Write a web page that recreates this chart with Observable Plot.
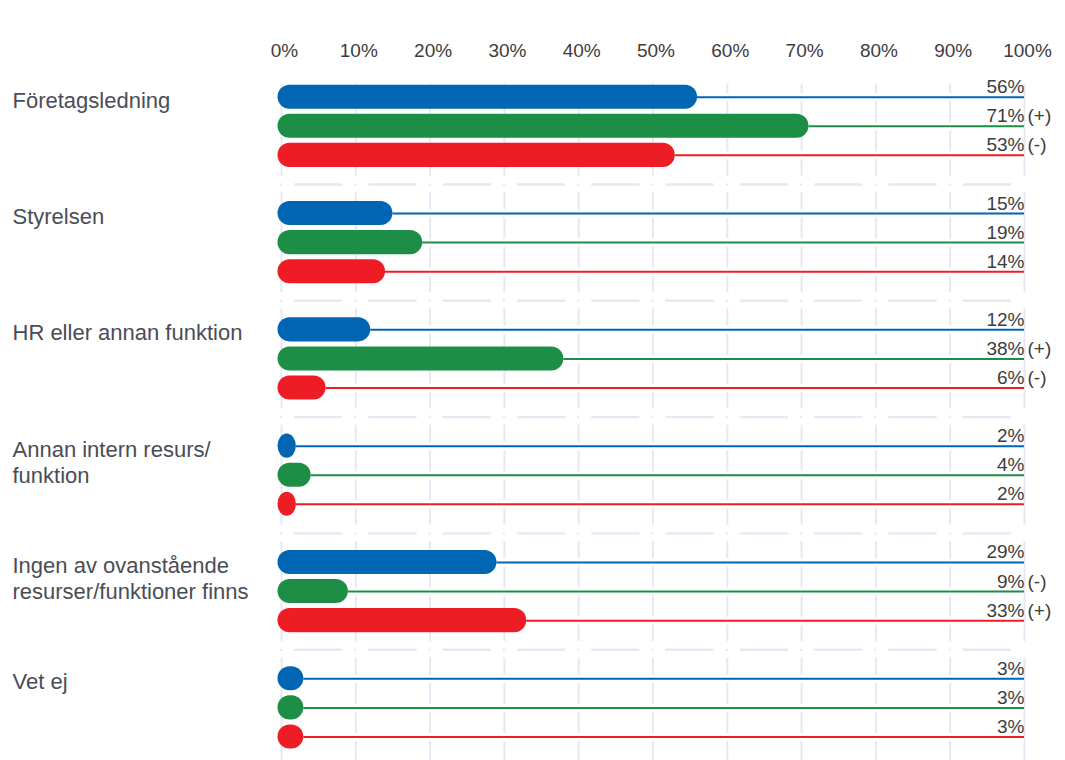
<!DOCTYPE html>
<html>
<head>
<meta charset="utf-8">
<script src="https://cdn.jsdelivr.net/npm/d3@7"></script>
<script src="https://cdn.jsdelivr.net/npm/@observablehq/plot@0.6"></script>
<style>
  html, body { margin: 0; padding: 0; background: #ffffff; }
  #chart { width: 1065px; height: 760px; overflow: hidden; }
</style>
</head>
<body>
<div id="chart"></div>
<script>
// ---- Data ----
const categories = [
  "Företagsledning",
  "Styrelsen",
  "HR eller annan funktion",
  "Annan intern resurs/\nfunktion",
  "Ingen av ovanstående\nresurser/funktioner finns",
  "Vet ej"
];
const seriesNames = ["Serie 1", "Serie 2", "Serie 3"];
const serie1 = [56, 15, 12, 2, 29, 3];
const serie2 = [71, 19, 38, 4, 9, 3];
const serie3 = [53, 14, 6, 2, 33, 3];
const serie1Sig = ["", "", "", "", "", ""];
const serie2Sig = ["(+)", "", "(+)", "", "(-)", ""];
const serie3Sig = ["(-)", "", "(-)", "", "(+)", ""];
const seriesColors = ["#0065b2", "#1c8e46", "#ee1d25"];
const xTicks = [0, 10, 20, 30, 40, 50, 60, 70, 80, 90, 100];

// ---- Table built from arrays ----
const seriesValues = [serie1, serie2, serie3];
const seriesSig = [serie1Sig, serie2Sig, serie3Sig];
const rows = [];
categories.forEach((cat, g) => {
  seriesNames.forEach((s, i) => {
    rows.push({cat, series: s, value: seriesValues[i][g], sig: seriesSig[i][g], row: g * 4 + i});
  });
});
const separators = categories.slice(1).map((_, g) => (g + 1) * 4 - 1);
const gap = 0.28;
const gridSegs = [];
xTicks.forEach(x => {
  categories.forEach((_, g) => {
    gridSegs.push({
      x,
      y1: g === 0 ? -0.45 : g * 4 - 1 + gap,
      y2: g === categories.length - 1 ? g * 4 + 3.6 : g * 4 + 3 - gap
    });
  });
});

const font = "'Liberation Sans', Arial, Helvetica, sans-serif";
const gridColor = "#e6e8f3";

const chart = Plot.plot({
  width: 1065,
  height: 760,
  marginLeft: 281,
  marginRight: 41,
  marginTop: 60,
  marginBottom: 0,
  style: {fontFamily: font, fontSize: "19px", color: "#3d3d3d", background: "#ffffff", overflow: "hidden"},
  x: {domain: [0, 100], axis: null},
  y: {domain: [0, 20], range: [96.7, 678.3], axis: null},
  color: {domain: seriesNames, range: seriesColors},
  marks: [
    Plot.ruleX(gridSegs, {x: "x", y1: "y1", y2: "y2", stroke: gridColor, strokeWidth: 2}),
    Plot.ruleY(separators, {y: d => d, x1: 0, x2: 100, stroke: gridColor, strokeWidth: 2.4,
      strokeDasharray: "0 14 46.3 14", strokeLinecap: "round"}),
    Plot.ruleY(rows, {y: "row", x1: "value", x2: 100, stroke: "#ffffff", strokeWidth: 8}),
    Plot.ruleY(rows, {y: "row", x1: "value", x2: 100, stroke: "series", strokeWidth: 2}),
    Plot.rectX(rows, {x1: 0, x2: "value", y1: d => d.row - 0.5, y2: d => d.row + 0.5,
      insetTop: 2.5, insetBottom: 2.5, insetLeft: -3.5, rx: 12, fill: "series"}),
    Plot.text(rows, {x: 100, y: "row", text: d => d.value + "%", textAnchor: "end",
      lineAnchor: "bottom", dy: -4, fontSize: 19, fill: "#3d3d3d"}),
    Plot.text(rows.filter(d => d.sig), {x: 100, y: "row", text: "sig", textAnchor: "start",
      lineAnchor: "bottom", dy: -4, dx: 3, fontSize: 19, fill: "#3d3d3d"}),
    Plot.text(categories, {frameAnchor: "left", y: (d, i) => i * 4, text: d => d, dx: -269,
      textAnchor: "start", lineAnchor: "top", dy: -8, fontSize: 22, lineHeight: 1.18, fill: "#4a4d56"}),
    Plot.axisX(xTicks, {anchor: "top", tickSize: 0, tickPadding: 4, tickFormat: d => d + "%",
      fontSize: 19, dx: 3, fill: "#3d3d3d"})
  ]
});
document.getElementById("chart").appendChild(chart);
</script>
</body>
</html>
